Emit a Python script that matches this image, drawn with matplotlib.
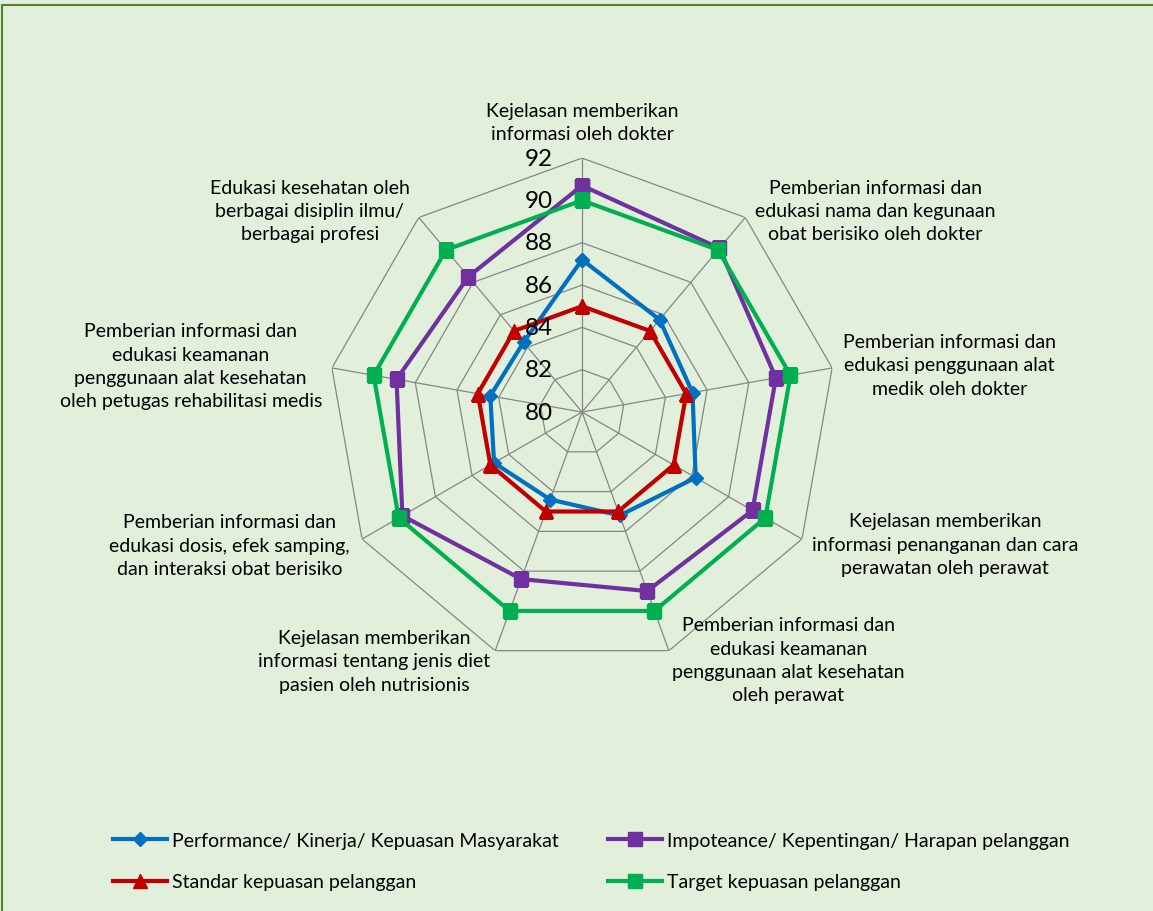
import numpy as np
import matplotlib.pyplot as plt
from matplotlib.patches import Rectangle

plt.rcParams['font.family'] = ['Lato', 'DejaVu Sans']

categories = [
    "Kejelasan memberikan\ninformasi oleh dokter",
    "Pemberian informasi dan\nedukasi nama dan kegunaan\nobat berisiko oleh dokter",
    "Pemberian informasi dan\nedukasi penggunaan alat\nmedik oleh dokter",
    "Kejelasan memberikan\ninformasi penanganan dan cara\nperawatan oleh perawat",
    "Pemberian informasi dan\nedukasi keamanan\npenggunaan alat kesehatan\noleh perawat",
    "Kejelasan memberikan\ninformasi tentang jenis diet\npasien oleh nutrisionis",
    "Pemberian informasi dan\nedukasi dosis, efek samping,\ndan interaksi obat berisiko",
    "Pemberian informasi dan\nedukasi keamanan\npenggunaan alat kesehatan\noleh petugas rehabilitasi medis",
    "Edukasi kesehatan oleh\nberbagai disiplin ilmu/\nberbagai profesi",
]

kinerja = [87.2, 85.7, 85.3, 86.2, 85.2, 84.4, 84.8, 84.4, 84.3]
harapan = [90.7, 90.1, 89.3, 89.3, 89.0, 88.4, 89.8, 88.9, 88.35]
standar = [85, 85, 85, 85, 85, 85, 85, 85, 85]
target = [90, 90, 90, 90, 90, 90, 90, 90, 90]

series_names = [
    "Performance/ Kinerja/ Kepuasan Masyarakat",
    "Impoteance/ Kepentingan/ Harapan pelanggan",
    "Standar kepuasan pelanggan",
    "Target kepuasan pelanggan",
]
r_ticks = [80, 82, 84, 86, 88, 90, 92]

bg = '#E2EFDA'
fig = plt.figure(figsize=(11.53, 9.12), dpi=100, facecolor=bg)
fig.patches.append(Rectangle((0.002, -0.01), 1.2, 1.0034, transform=fig.transFigure,
                             fill=False, edgecolor='#548235', linewidth=1.5))

ax = fig.add_axes([0.2845, 0.2686, 0.4406, 0.557], projection='polar')
ax.set_facecolor('none')
ax.set_theta_offset(np.pi / 2)
ax.set_theta_direction(-1)
ax.set_ylim(r_ticks[0], r_ticks[-1])
ax.grid(False)
ax.spines['polar'].set_visible(False)
ax.set_xticks([])
ax.set_yticks([])

n = len(categories)
theta = np.linspace(0, 2 * np.pi, n, endpoint=False)
theta_c = np.append(theta, theta[0])

# polygon grid
for r in r_ticks[1:]:
    ax.plot(theta_c, [r] * (n + 1), color='#868686', lw=0.9, zorder=1)
for t in theta:
    ax.plot([t, t], [r_ticks[0], r_ticks[-1]], color='#868686', lw=0.9, zorder=1)

for r in r_ticks:
    ax.annotate(str(r), (0, r), xytext=(-29, 0), textcoords='offset pixels',
                ha='right', va='center', fontsize=17.5, zorder=5)

def closed(v):
    return list(v) + [v[0]]

styles = [
    (kinerja, '#0070C0', 'D', 7.5),
    (harapan, '#7030A0', 's', 10),
    (standar, '#C00000', '^', 10),
    (target, '#00B050', 's', 10),
]
handles = []
for (vals, col, mk, ms), name in zip(styles, series_names):
    h, = ax.plot(theta_c, closed(vals), color=col, lw=3, marker=mk, ms=ms,
                 zorder=3, label=name)
    handles.append(h)

# category labels: offsets in pixels from outer vertex
offsets = [(0, 16, 'center', 'bottom'), (10, 7, 'left', 'center'),
           (11, 3, 'left', 'center'), (10, -5, 'left', 'center'),
           (3, -9, 'left', 'center'), (-5, -10, 'right', 'center'),
           (-12, -6, 'right', 'center'), (-10, 2, 'right', 'center'),
           (-9, 7, 'right', 'center')]
for t, lab, (dx, dy, ha, va) in zip(theta, categories, offsets):
    ax.annotate(lab, (t, r_ticks[-1]), xytext=(dx, dy), textcoords='offset pixels',
                ha=ha, va=va, multialignment='center', fontsize=14,
                linespacing=1.45, annotation_clip=False)

order = [0, 2, 1, 3]
fig.legend([handles[i] for i in order], [series_names[i] for i in order],
           loc='upper left', bbox_to_anchor=(0.098, 1 - 833 / 912), ncol=2,
           frameon=False, fontsize=14, handlelength=2.8, handletextpad=0.25,
           columnspacing=2.5, labelspacing=1.25, borderpad=0, borderaxespad=0)

fig.savefig('out.png', dpi=100, facecolor=bg)
